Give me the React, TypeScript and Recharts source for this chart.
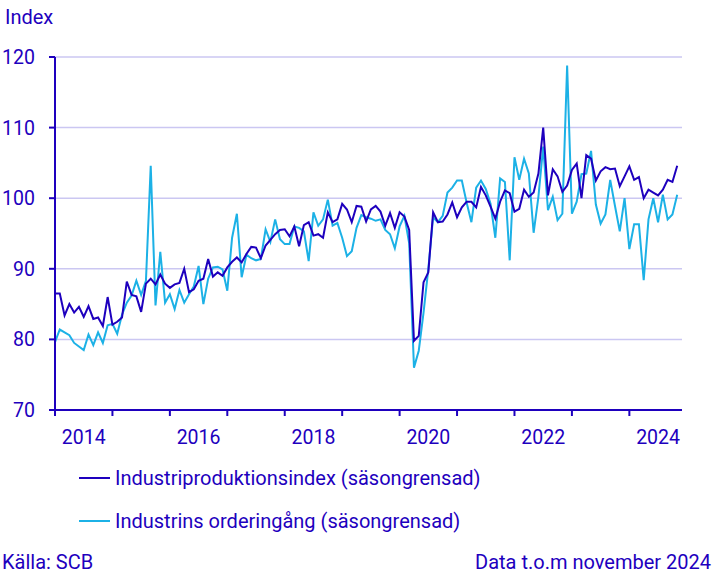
import React from 'react';
import { LineChart, Line, XAxis, YAxis, CartesianGrid } from 'recharts';

// Monthly values, January 2014 – November 2024
const production = [
  86.5, 86.5, 83.4, 85.0, 83.8, 84.6, 83.2, 84.7, 82.9, 83.1, 81.9, 86.0,
  82.1, 82.5, 83.1, 88.2, 86.3, 86.1, 83.9, 87.9, 88.6, 87.8, 89.2, 87.9,
  87.3, 87.8, 88.0, 90.0, 86.7, 87.1, 88.3, 88.6, 91.4, 88.9, 89.5, 89.0,
  90.2, 91.0, 91.6, 90.9, 92.1, 93.1, 93.0, 91.5, 93.3, 94.1, 94.9, 95.5,
  95.6, 94.6, 96.0, 93.2, 96.2, 96.6, 94.7, 94.9, 94.4, 98.0, 96.6, 97.0,
  99.2, 98.4, 96.6, 98.9, 98.8, 96.7, 98.4, 98.9, 98.1, 96.1, 97.9, 95.8,
  98.0, 97.4, 95.5, 79.8, 80.5, 88.1, 89.5, 98.0, 96.6, 96.7, 97.7, 99.4,
  97.3, 98.7, 99.5, 99.5, 98.7, 101.6, 100.4, 98.8, 97.1, 99.5, 101.1, 100.7,
  98.1, 98.5, 101.2, 100.2, 100.8, 103.5, 110.0, 100.4, 104.1, 103.1, 100.9, 101.8,
  104.0, 104.9, 100.0, 106.1, 105.6, 102.5, 103.8, 104.4, 104.1, 104.2, 101.7, 103.1,
  104.5, 102.6, 103.0, 100.0, 101.2, 100.8, 100.4, 101.2, 102.6, 102.3, 104.6,
];

const orders = [
  79.6, 81.4, 81.0, 80.6, 79.5, 79.0, 78.5, 80.7, 79.2, 81.0, 79.5, 82.0,
  82.2, 80.8, 83.5, 85.2, 86.2, 88.3, 86.3, 88.3, 104.6, 84.8, 92.4, 85.2,
  86.4, 84.3, 87.0, 85.2, 86.4, 87.5, 90.4, 85.0, 88.6, 90.2, 90.3, 89.9,
  86.9, 94.4, 97.8, 88.8, 92.0, 91.5, 91.2, 91.4, 95.6, 93.8, 97.0, 94.2,
  93.5, 93.5, 96.0, 95.8, 95.3, 91.1, 98.0, 96.1, 97.0, 99.8, 96.1, 96.5,
  94.4, 91.8, 92.5, 95.8, 97.6, 97.3, 97.1, 96.8, 97.0, 95.5, 94.9, 92.9,
  96.0, 97.5, 93.6, 76.0, 78.4, 83.8, 90.0, 97.3, 96.6, 97.5, 100.8, 101.5,
  102.5, 102.5, 99.4, 96.6, 101.5, 102.5, 101.3, 99.2, 94.4, 102.8, 102.3, 91.2,
  105.8, 102.6, 105.6, 103.5, 95.1, 100.2, 107.3, 98.3, 100.2, 96.9, 97.8, 118.8,
  97.8, 99.5, 103.4, 103.5, 106.7, 99.1, 96.4, 97.7, 102.6, 98.9, 95.3, 100.0,
  92.8, 96.3, 96.3, 88.4, 97.0, 100.0, 96.6, 100.5, 97.0, 97.7, 100.5,
];

const yTicks = [70, 80, 90, 100, 110, 120];
const yearLabels = ['2014', '', '2016', '', '2018', '', '2020', '', '2022', '', '2024'];
const yearTicks = yearLabels.map((_, i) => i * 12);

const seriesNames = [
  'Industriproduktionsindex (säsongrensad)',
  'Industrins orderingång (säsongrensad)',
];

const data = production.map((p, i) => ({ m: i, production: p, orders: orders[i] }));

const DARK = '#1E00BE';
const LIGHT = '#1CB1E6';
const GRID = '#CBC7F2';
const FONT = 'Roboto, sans-serif';

const CHART_W = 713;
const MARGIN_RIGHT = 31;
const Y_W = 55;
const X_MAX = 131;
const PX_PER_MONTH = (CHART_W - MARGIN_RIGHT - Y_W) / X_MAX;

const XTick = (props: any) => {
  const { x, y, index } = props;
  const label = yearLabels[index];
  if (!label) return null;
  return (
    <text
      x={x + 6 * PX_PER_MONTH}
      y={y}
      dy="0.71em"
      textAnchor="middle"
      fill={DARK}
      fontSize={19.5}
      fontFamily={FONT}
    >
      {label}
    </text>
  );
};

export default function App() {
  return (
    <div
      style={{
        position: 'absolute',
        left: 0,
        top: 0,
        width: 713,
        height: 577,
        background: '#fff',
        fontFamily: FONT,
        color: DARK,
        overflow: 'hidden',
      }}
    >
      <div style={{ position: 'absolute', left: 5, top: 5, fontSize: 20, lineHeight: '24px' }}>Index</div>
      <div style={{ position: 'absolute', left: 0, top: 0 }}>
        <LineChart
          width={CHART_W}
          height={460}
          data={data}
          margin={{ top: 57, right: MARGIN_RIGHT, bottom: 0, left: 0 }}
        >
          <CartesianGrid vertical={false} stroke={GRID} strokeWidth={1.5} />
          <XAxis
            dataKey="m"
            type="number"
            domain={[0, X_MAX]}
            ticks={yearTicks}
            interval={0}
            height={50}
            axisLine={{ stroke: DARK, strokeWidth: 2 }}
            tickLine={{ stroke: DARK, strokeWidth: 2 }}
            tickSize={6}
            tickMargin={14}
            tick={<XTick />}
          />
          <YAxis
            domain={[70, 120]}
            ticks={yTicks}
            interval={0}
            width={Y_W}
            axisLine={{ stroke: DARK, strokeWidth: 2 }}
            tickLine={{ stroke: DARK, strokeWidth: 2 }}
            tickSize={6}
            tickMargin={14}
            tick={{ fill: DARK, fontSize: 19.5, fontFamily: FONT }}
          />
          <Line
            type="linear"
            dataKey="orders"
            stroke={LIGHT}
            strokeWidth={2}
            dot={false}
            isAnimationActive={false}
          />
          <Line
            type="linear"
            dataKey="production"
            stroke={DARK}
            strokeWidth={2}
            dot={false}
            isAnimationActive={false}
          />
        </LineChart>
      </div>
      {[DARK, LIGHT].map((c, i) => (
        <div
          key={i}
          style={{
            position: 'absolute',
            left: 79,
            top: 466 + i * 43,
            height: 24,
            display: 'flex',
            alignItems: 'center',
            fontSize: 20,
            whiteSpace: 'nowrap',
          }}
        >
          <div style={{ width: 31, height: 2, background: c, marginRight: 5 }} />
          <span>{seriesNames[i]}</span>
        </div>
      ))}
      <div style={{ position: 'absolute', left: 2, top: 550, fontSize: 20, lineHeight: '24px' }}>Källa: SCB</div>
      <div style={{ position: 'absolute', right: 2, top: 550, fontSize: 20, lineHeight: '24px' }}>
        Data t.o.m november 2024
      </div>
    </div>
  );
}
